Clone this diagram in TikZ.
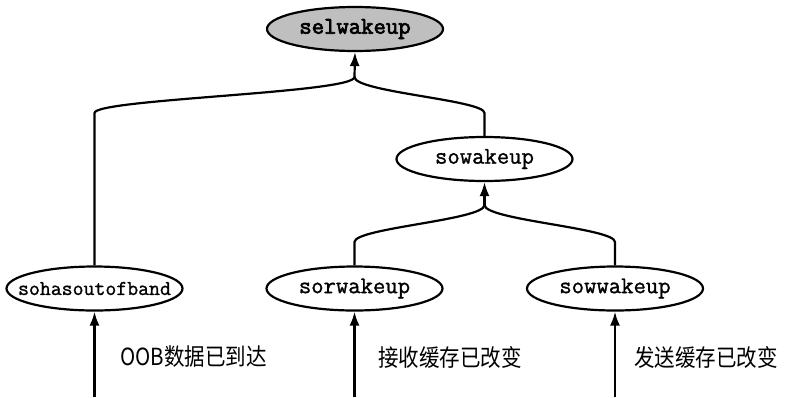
\documentclass[tikz,border=0pt]{standalone}
\usepackage{fontspec}
\newfontfamily\cjk{Noto Sans CJK SC}
\newfontfamily\fnfont[FakeBold=1.2]{Latin Modern Mono}
\newfontfamily\fnbold[FakeBold=3]{Latin Modern Mono}
\usetikzlibrary{arrows.meta,shapes.geometric}
\newcommand{\fnbox}[1]{\makebox[0pt][c]{#1}}
\begin{document}
\begin{tikzpicture}[x=1pt,y=-1pt,
  fn/.style={draw, line width=2.2pt, ellipse, minimum width=176pt, minimum height=44pt, inner sep=0pt,
    font=\fnfont\fontsize{24}{24}\selectfont},
  conn/.style={line width=2.2pt},
  arr/.style={line width=2.2pt, -{Latex[length=14pt,width=10pt]}},
  lbl/.style={anchor=west, inner sep=0pt, font=\cjk\fontsize{20.5}{20.5}\selectfont}]
\useasboundingbox (0,0) rectangle (786,397);
\node[fn, fill=gray!50, font=\fnbold\fontsize{24}{24}\selectfont] (sel) at (355,29) {\fnbox{selwakeup}};
\node[fn] (so) at (484.5,159) {\fnbox{sowakeup}};
\node[fn, font=\fnfont\fontsize{21.2}{21.2}\selectfont] (oob) at (94.5,288.5) {\fnbox{sohasoutofband}};
\node[fn] (sor) at (354.5,288.5) {\fnbox{sorwakeup}};
\node[fn] (sow) at (615,288.5) {\fnbox{sowwakeup}};
\coordinate (j1) at (354.5,77);
\coordinate (j2) at (484.5,205);
\coordinate (c1) at (94.5,113);
\coordinate (c2) at (484.5,113);
\coordinate (c3) at (354.5,242);
\coordinate (c4) at (615,242);
\coordinate (b1) at (94.5,397);
\coordinate (b2) at (354.5,397);
\coordinate (b3) at (615,397);
\draw[conn] (oob.north) -- (c1) .. controls +(0,-14) and +(0,16) .. (j1);
\draw[conn] (so.north) -- (c2) .. controls +(0,-13) and +(0,15) .. (j1);
\draw[arr] (j1) -- (sel.south);
\draw[conn] (sor.north) -- (c3) .. controls +(0,-14) and +(0,15) .. (j2);
\draw[conn] (sow.north) -- (c4) .. controls +(0,-14) and +(0,15) .. (j2);
\draw[arr] (j2) -- (so.south);
\draw[arr] (b1) -- (oob.south);
\draw[arr] (b2) -- (sor.south);
\draw[arr] (b3) -- (sow.south);
\node[lbl] (t1) at (120,357) {\scalebox{1}[1.15]{OOB数据已到达}};
\node[lbl] (t2) at (378,357) {\scalebox{1}[1.15]{接收缓存已改变}};
\node[lbl] (t3) at (634,357) {\scalebox{1}[1.15]{发送缓存已改变}};
\end{tikzpicture}
\end{document}
